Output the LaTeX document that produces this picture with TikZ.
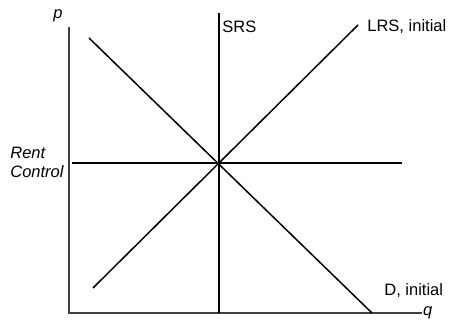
\documentclass[tikz,border=0pt]{standalone}
\usepackage{fontspec}
\setmainfont{Liberation Sans}
\usepackage{xcolor}
\definecolor{AxisGray}{HTML}{404040}

\begin{document}
\begin{tikzpicture}[x=1cm,y=1cm,
  font=\fontsize{9.4}{10.8}\selectfont,
  axisline/.style={AxisGray,line width=0.6pt},
  curveline/.style={black,line width=0.85pt},
  ceilingline/.style={black,line width=0.6pt}]
\path[use as bounding box] (0,0) rectangle (9.00,6.50);
% axes
\coordinate (origin) at (1.38,0.24);
\coordinate (ptop) at (1.38,5.96);
\coordinate (qend) at (8.44,0.24);
\draw[axisline] (ptop) -- (origin) -- (qend);
\node (plabel) at (1.16,6.18) {\itshape p};
\node[anchor=west,inner sep=0.5pt] (qlabel) at (qend) {\itshape q};
% rent control
\coordinate (rcleft) at (1.44,3.24);
\coordinate (rcright) at (8.04,3.24);
\draw[ceilingline] (rcleft) -- (rcright);
\node[anchor=west,align=left,inner sep=0pt] (rclabel) at (0.20,3.25) {\itshape Rent\\\itshape Control};
% short run supply
\coordinate (srstop) at (4.38,6.24);
\coordinate (srsbot) at (4.38,0.24);
\draw[curveline] (srstop) -- (srsbot);
\node[anchor=west,inner sep=0pt] (srslabel) at (4.44,5.96) {SRS};
% long run supply
\coordinate (lrsbot) at (1.86,0.74);
\coordinate (lrstop) at (7.16,6.00);
\draw[curveline] (lrsbot) -- (lrstop);
\node[anchor=west,inner sep=0pt] (lrslabel) at (7.34,5.96) {LRS, initial};
% demand
\coordinate (dtop) at (1.78,5.74);
\coordinate (dbot) at (7.44,0.24);
\draw[curveline] (dtop) -- (dbot);
\node[anchor=west,inner sep=0pt] (dlabel) at (7.68,0.68) {D, initial};
\end{tikzpicture}
\end{document}
